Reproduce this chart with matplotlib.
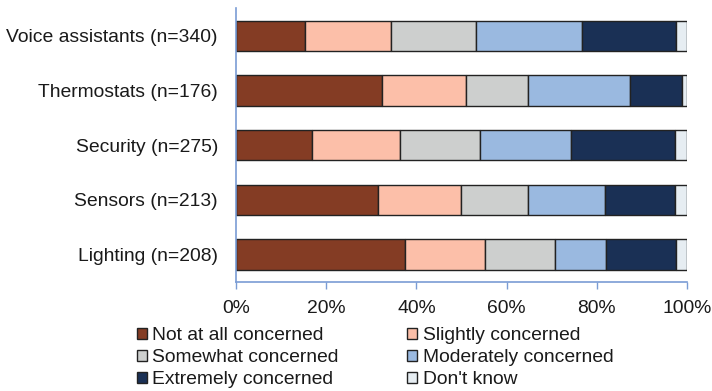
import matplotlib.pyplot as plt
import numpy as np

plt.rcParams['font.family'] = ['Liberation Sans', 'DejaVu Sans']

devices = ['Lighting (n=208)', 'Sensors (n=213)', 'Security (n=275)',
           'Thermostats (n=176)', 'Voice assistants (n=340)']

levels = ['Not at all concerned', 'Slightly concerned', 'Somewhat concerned',
          'Moderately concerned', 'Extremely concerned', "Don't know"]
colors = ['#843C24', '#FCBFA9', '#CDCFCE', '#9AB9E0', '#1A3055', '#E6EDF2']

# percent per device, same order as devices (bottom to top)
not_at_all = [37.4, 31.4, 16.8, 32.4, 15.3]
slightly   = [17.9, 18.4, 19.5, 18.7, 19.0]
somewhat   = [15.4, 15.0, 17.9, 13.7, 18.9]
moderately = [11.4, 17.0, 20.0, 22.6, 23.5]
extremely  = [15.5, 15.6, 23.1, 11.6, 20.9]
dont_know  = [2.4, 2.6, 2.7, 1.0, 2.4]

series = [not_at_all, slightly, somewhat, moderately, extremely, dont_know]

fs = 13.9

fig = plt.figure(figsize=(7.12, 3.91), dpi=100)
ax = fig.add_axes([236/712, 1-282/391, 451/712, 273.5/391])

y = np.arange(len(devices))
left = np.zeros(len(devices))
bars = []
for vals, col, lab in zip(series, colors, levels):
    b = ax.barh(y, vals, left=left, height=0.556, color=col,
                edgecolor='#222222', linewidth=1.0, label=lab)
    bars.append(b)
    left += np.array(vals)

ax.set_xlim(0, 100)
ax.set_ylim(-0.5, 4.5)
ax.set_yticks(y)
ax.set_yticklabels(devices, fontsize=fs, color='#1a1a1a')
ax.set_xticks(np.arange(0, 101, 20))
ax.set_xticklabels([f'{v}%' for v in range(0, 101, 20)], fontsize=fs,
                   color='#1a1a1a')
ax.tick_params(axis='y', length=0, pad=13)
ax.tick_params(axis='x', length=5, color='#7A9CD4', width=1, pad=8)

for s in ['top', 'right']:
    ax.spines[s].set_visible(False)
for s in ['left', 'bottom']:
    ax.spines[s].set_color('#7A9CD4')
    ax.spines[s].set_linewidth(1.2)

# legend filled column-wise, so reorder to read across rows
order = [0, 2, 4, 1, 3, 5]
leg = fig.legend([bars[i] for i in order], [levels[i] for i in order],
                 ncol=2, loc='upper left', bbox_to_anchor=(137/712, 1-327/391),
                 frameon=False, fontsize=fs, handlelength=0.52,
                 handleheight=0.52, handletextpad=0.28, columnspacing=3.55,
                 labelspacing=0.27, borderaxespad=0, borderpad=0)
for t in leg.get_texts():
    t.set_color('#1a1a1a')

fig.savefig('out.png', dpi=100)
